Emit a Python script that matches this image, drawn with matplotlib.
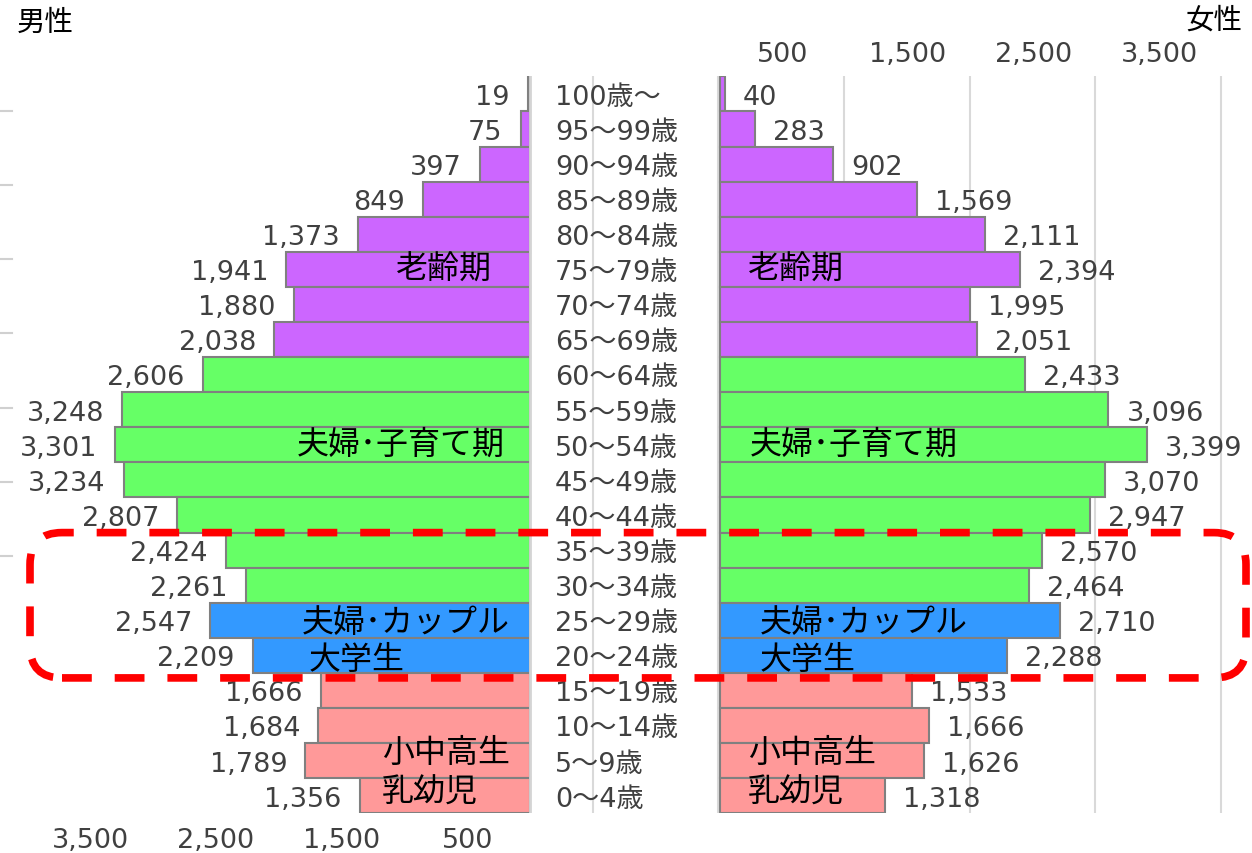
import numpy as np
import matplotlib.pyplot as plt
from matplotlib.patches import FancyBboxPatch
from matplotlib.lines import Line2D
from matplotlib.transforms import IdentityTransform

plt.rcParams['font.family'] = ['Noto Sans CJK JP', 'DejaVu Sans']
NUM_FONT = ['DejaVu Sans', 'Noto Sans CJK JP']

# population by age group, oldest first
ages = ['100歳～', '95～99歳', '90～94歳', '85～89歳', '80～84歳', '75～79歳',
        '70～74歳', '65～69歳', '60～64歳', '55～59歳', '50～54歳', '45～49歳',
        '40～44歳', '35～39歳', '30～34歳', '25～29歳', '20～24歳', '15～19歳',
        '10～14歳', '5～9歳', '0～4歳']
male = [19, 75, 397, 849, 1373, 1941, 1880, 2038, 2606, 3248, 3301, 3234,
        2807, 2424, 2261, 2547, 2209, 1666, 1684, 1789, 1356]
female = [40, 283, 902, 1569, 2111, 2394, 1995, 2051, 2433, 3096, 3399, 3070,
          2947, 2570, 2464, 2710, 2288, 1533, 1666, 1626, 1318]

# life stage groups (rows per group, top to bottom)
group_rows = [8, 7, 2, 4]
group_colors = ['#CC66FF', '#66FF66', '#3399FF', '#FF9999']

stage_names = ['老齢期', '夫婦･子育て期', '夫婦･カップル', '大学生', '小中高生', '乳幼児']
# label placement: (y, right end on male side, left start on female side)
stage_pos = [(15.03, -302, 1736), (10.02, -199, 1752), (4.95, -160, 1831),
             (3.89, -995, 1831), (1.25, -159, 1736), (0.12, -414, 1736)]

OFFSET = 1510          # where the female axis starts
TXT = '#404040'
EDGE = '#808080'
FS = 19.5

colors = []
for n, c in zip(group_rows, group_colors):
    colors += [c] * n

fig = plt.figure(figsize=(12.52, 8.54), dpi=100)
W, H = 1252, 854
ax = fig.add_axes([10 / W, (H - 814.4) / H, 1230 / W, (814.4 - 77.3) / H])

y = np.arange(len(ages))[::-1]

ax.barh(y, [-m for m in male], height=1.0, color=colors, edgecolor=EDGE,
        linewidth=1.5, zorder=2)
ax.barh(y, female, left=OFFSET, height=1.0, color=colors, edgecolor=EDGE,
        linewidth=1.5, zorder=2)
ax.axvline(0, color='#d4d4d4', lw=2, zorder=3)

for yi, m, f, a in zip(y, male, female, ages):
    ax.annotate(f'{m:,}', (-m, yi), xytext=(-13, -2), textcoords='offset points',
                ha='right', va='center', fontsize=FS, color=TXT, family=NUM_FONT)
    ax.annotate(f'{f:,}', (OFFSET + f, yi), xytext=(13, -2), textcoords='offset points',
                ha='left', va='center', fontsize=FS, color=TXT, family=NUM_FONT)
    ax.annotate(a, (199, yi), xytext=(0, -2), textcoords='offset points',
                ha='left', va='center', fontsize=FS, color=TXT, family=NUM_FONT)

for name, (sy, xl, xr) in zip(stage_names, stage_pos):
    ax.text(xl, sy, name, ha='right', va='center', fontsize=23, color='black', zorder=4)
    ax.text(xr, sy, name, ha='left', va='center', fontsize=23, color='black', zorder=4)

ax.set_xlim(-4140, 5653)
ax.set_ylim(-0.5, 20.5)
ax.set_yticks([])
ax.set_xticks([-3500, -2500, -1500, -500])
ax.set_xticklabels(['3,500', '2,500', '1,500', '500'], family=NUM_FONT)
ax.set_xticks(np.arange(-3500, 6000, 1000), minor=True)
ax.grid(which='minor', axis='x', color='#d9d9d9', lw=1.5)
ax.set_axisbelow(True)
ax.tick_params(which='both', length=0, labelsize=FS, labelcolor=TXT, pad=10)
for s in ax.spines.values():
    s.set_visible(False)

top = ax.twiny()
top.set_xlim(ax.get_xlim())
top_vals = [500, 1500, 2500, 3500]
top.set_xticks([OFFSET + v for v in top_vals])
top.set_xticklabels([f'{v:,}' for v in top_vals], family=NUM_FONT)
top.tick_params(length=0, labelsize=FS, labelcolor=TXT, pad=7)
for s in top.spines.values():
    s.set_visible(False)

fig.text(17 / W, 1 - 23 / H, '男性', ha='left', va='center', fontsize=20.5, color='black')
fig.text(1243 / W, 1 - 21 / H, '女性', ha='right', va='center', fontsize=20.5, color='black')

# faint tick marks down the left edge
for k in range(7):
    yy = H - (111.7 + 74.2 * k)
    fig.add_artist(Line2D([0, 12], [yy, yy], color='#d0d0d0', lw=1.5,
                          transform=IdentityTransform()))

# red dashed frame around the 20-39 rows
y_lo = ax.transData.transform((0, 3.36))[1]
y_hi = ax.transData.transform((0, 7.5))[1]
frame = FancyBboxPatch((30, y_lo), 1246 - 30, y_hi - y_lo,
                       boxstyle='round,pad=0,rounding_size=32',
                       fill=False, edgecolor='#FF0000', lw=5.5,
                       linestyle=(0, (3.9, 3.0)), transform=IdentityTransform(),
                       zorder=10)
fig.add_artist(frame)

fig.savefig('out.png', dpi=100)
